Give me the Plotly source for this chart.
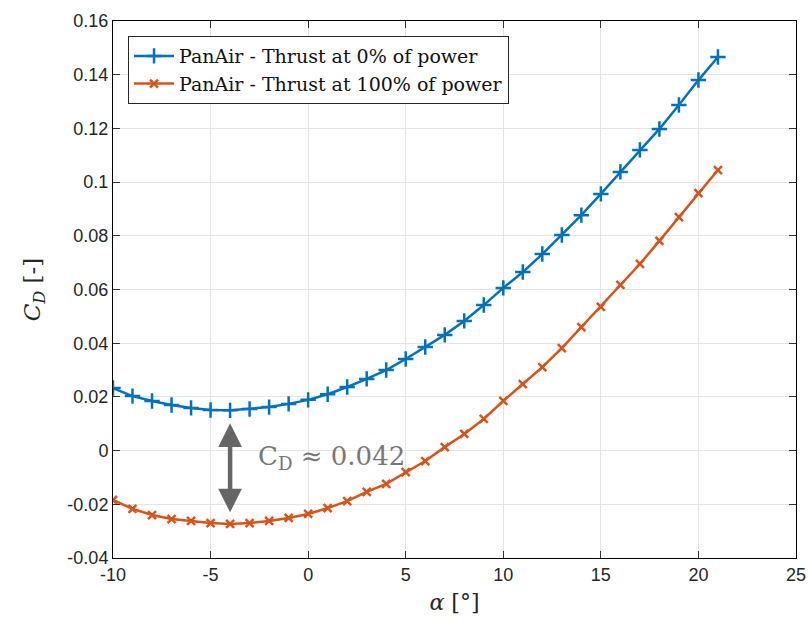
import plotly.graph_objects as go

# Angle of attack [deg]
alpha = list(range(-10, 22))

# Drag coefficient, propeller thrust at 0% of power
cd_thrust_0 = [0.0233, 0.0203, 0.0185, 0.0170, 0.0159, 0.0151, 0.0150, 0.0155,
               0.0162, 0.0174, 0.0189, 0.0210, 0.0237, 0.0267, 0.0300, 0.0341,
               0.0386, 0.0431, 0.0483, 0.0542, 0.0606, 0.0665, 0.0732, 0.0803,
               0.0877, 0.0956, 0.1038, 0.1120, 0.1198, 0.1287, 0.1380, 0.1466]

# Drag coefficient, propeller thrust at 100% of power
cd_thrust_100 = [-0.0184, -0.0217, -0.0240, -0.0255, -0.0262, -0.0270, -0.0273, -0.0270,
                 -0.0262, -0.0251, -0.0236, -0.0214, -0.0188, -0.0154, -0.0124, -0.0080,
                 -0.0039, 0.0013, 0.0062, 0.0118, 0.0185, 0.0248, 0.0311, 0.0382,
                 0.0460, 0.0535, 0.0617, 0.0695, 0.0781, 0.0870, 0.0959, 0.1045]

x_ticks = [-10, -5, 0, 5, 10, 15, 20, 25]
x_tick_text = ["-10", "-5", "0", "5", "10", "15", "20", "25"]
y_ticks = [-0.04, -0.02, 0, 0.02, 0.04, 0.06, 0.08, 0.1, 0.12, 0.14, 0.16]
y_tick_text = ["-0.04", "-0.02", "0", "0.02", "0.04", "0.06", "0.08", "0.1", "0.12", "0.14", "0.16"]

BLUE = "#0072BD"
ORANGE = "#D95319"
SERIF = "DejaVu Serif, Liberation Serif, serif"
SANS = "Liberation Sans, Arial, sans-serif"

fig = go.Figure()
fig.add_trace(go.Scatter(
    x=alpha, y=cd_thrust_0, mode="lines+markers",
    name="PanAir - Thrust at 0% of power",
    line=dict(color=BLUE, width=2.5),
    marker=dict(symbol="cross-thin", size=11, line=dict(color=BLUE, width=2.5)),
))
fig.add_trace(go.Scatter(
    x=alpha, y=cd_thrust_100, mode="lines+markers",
    name="PanAir - Thrust at 100% of power",
    line=dict(color=ORANGE, width=2.5),
    marker=dict(symbol="x-thin", size=8, line=dict(color=ORANGE, width=2.5)),
))

# Drag offset between the two curves at their minima
i0 = cd_thrust_0.index(min(cd_thrust_0))
delta_cd = min(cd_thrust_0) - min(cd_thrust_100)
a_min = alpha[i0]
gap = 0.0043

fig.add_annotation(
    x=a_min, y=min(cd_thrust_100) + gap,
    ax=a_min, ay=min(cd_thrust_0) - gap,
    xref="x", yref="y", axref="x", ayref="y",
    text="", showarrow=True, arrowside="end+start",
    arrowhead=2, arrowsize=1.05, arrowwidth=4.5, arrowcolor="#666666",
)
fig.add_annotation(
    x=-2.65, y=-0.0025, xref="x", yref="y",
    text=f"C<sub>D</sub> \u2248 {delta_cd:.3f}", showarrow=False,
    xanchor="left", yanchor="middle",
    font=dict(family=SERIF, size=26, color="#777777"),
)

axis_common = dict(
    showline=True, linecolor="black", linewidth=1, mirror="all",
    ticks="inside", ticklen=7, tickcolor="#333333", tickwidth=1,
    showgrid=True, gridcolor="#e4e4e4", gridwidth=1,
    zeroline=False, automargin=False,
    tickfont=dict(family=SANS, size=18, color="#262626"),
)

fig.update_layout(
    width=811, height=630,
    margin=dict(l=113, r=15, t=21, b=72),
    paper_bgcolor="white", plot_bgcolor="white",
    xaxis=dict(range=[-10, 25], tickvals=x_ticks, ticktext=x_tick_text,
               title=dict(text="<i>\u03b1</i> [\u00b0]", standoff=11,
                          font=dict(family=SERIF, size=22, color="#262626")),
               **axis_common),
    yaxis=dict(range=[-0.04, 0.16], tickvals=y_ticks, ticktext=y_tick_text,
               title=dict(text="<i>C</i><sub><i>D</i></sub> [-]", standoff=20,
                          font=dict(family=SERIF, size=23, color="#262626")),
               **axis_common),
    legend=dict(x=0.022, y=0.972, xanchor="left", yanchor="top",
                bgcolor="white", bordercolor="#262626", borderwidth=1,
                font=dict(family=SERIF, size=19, color="#111111"),
                itemwidth=40, tracegroupgap=0),
    showlegend=True,
)

fig.write_html("out.html")
